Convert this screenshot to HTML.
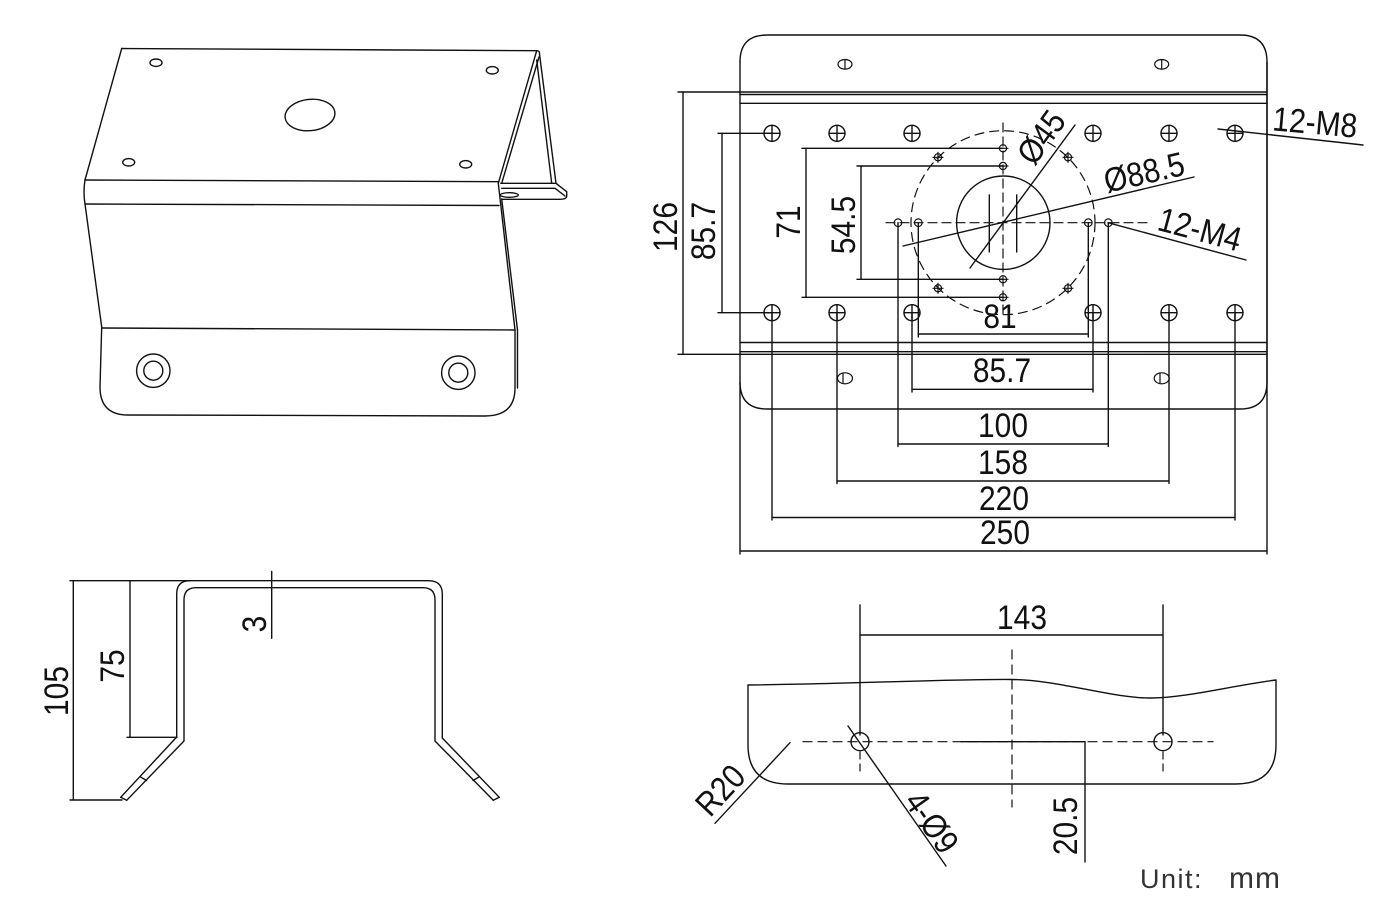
<!DOCTYPE html>
<html><head><meta charset="utf-8"><style>
html,body{margin:0;padding:0;background:#fff;}
svg{display:block;}
text{font-family:"Liberation Sans",sans-serif;font-size:34px;fill:#111;}
</style></head><body>
<svg width="1400" height="903" viewBox="0 0 1400 903" xmlns="http://www.w3.org/2000/svg">
<g fill="none" stroke="#111" stroke-width="1.4" stroke-linejoin="round" stroke-linecap="round">
<!-- ===== Isometric view ===== -->
<path d="M121.7,48.5 L536.7,50.7"/>
<path d="M121.7,48.5 L85,180"/>
<path d="M85,180 L499,181.7"/>
<path d="M85,180 Q83,192 85,204"/>
<path d="M85,204 L499,205.5"/>
<path d="M85,204 L101.7,327"/>
<path d="M101.7,328 L515,330"/>
<path d="M101.7,327 L100,387 Q100,415 128,415 L485,416 Q515,416 515,388 L515,330"/>
<path d="M498.3,183.3 L515,330"/>
<path d="M501.7,199 L517.5,330 L517.5,388"/>
<ellipse cx="156" cy="62.7" rx="6" ry="3.7"/>
<ellipse cx="492.3" cy="70.3" rx="6" ry="3.7"/>
<ellipse cx="128.7" cy="162.3" rx="6" ry="3.7"/>
<ellipse cx="465.7" cy="164.3" rx="6" ry="3.7"/>
<ellipse cx="310" cy="115" rx="25" ry="15.7" transform="rotate(-6 310 115)"/>
<circle cx="153.3" cy="370.7" r="16.7"/>
<circle cx="153.3" cy="370.7" r="9.5"/>
<circle cx="458.3" cy="372.7" r="16.7"/>
<circle cx="458.3" cy="372.7" r="9.5"/>
<!-- flange -->
<path d="M536.7,50.7 L498.3,183.3"/>
<path d="M539,57 L501.7,183.3"/>
<path d="M536.7,50.7 Q540,51 539.5,54 L556,183.3"/>
<path d="M536.7,60 L551.7,183.3"/>
<path d="M500.7,183.3 L556,183.3 L566.7,191.7 L566.7,196.7 Q566,199.3 560,199.3 L501.7,199.3"/>
<path d="M501.7,188.3 L555,188.3 L565,196"/>
<ellipse cx="509.3" cy="195" rx="9" ry="2.3"/>

<!-- ===== Plan view ===== -->
<path d="M740,62 Q740,35 767,35 L1240,35 Q1267,35 1267,62 L1267,382 Q1267,409 1240,409 L767,409 Q740,409 740,382"/>
<line x1="740" y1="62" x2="740" y2="554"/>
<line x1="1267" y1="62" x2="1267" y2="554"/>
<line x1="678" y1="92" x2="1267" y2="92"/>
<line x1="740" y1="94.5" x2="1267" y2="94.5"/>
<line x1="740" y1="103.3" x2="1267" y2="103.3"/>
<line x1="740" y1="342.5" x2="1267" y2="342.5"/>
<line x1="740" y1="351.7" x2="1267" y2="351.7"/>
<line x1="678" y1="354.3" x2="1267" y2="354.3"/>
<!-- slot holes -->
<g stroke-width="1.2">
<ellipse cx="845" cy="64.3" rx="7" ry="4.8"/><line x1="845" y1="59.5" x2="845" y2="69"/>
<ellipse cx="1161.7" cy="64.3" rx="7" ry="4.8"/><line x1="1161.7" y1="59.5" x2="1161.7" y2="69"/>
<ellipse cx="845" cy="378.3" rx="7.5" ry="5.5"/><line x1="843" y1="373" x2="843" y2="383.5"/>
<ellipse cx="1161.7" cy="378.3" rx="7.5" ry="5.5"/><line x1="1160" y1="373" x2="1160" y2="383.5"/>
</g>
<!-- left dims -->
<line x1="683" y1="92" x2="683" y2="354.3"/>
<line x1="718" y1="133.3" x2="772" y2="133.3"/>
<line x1="718" y1="312.7" x2="772" y2="312.7"/>
<line x1="722" y1="133.3" x2="722" y2="312.7"/>
<line x1="802" y1="148.3" x2="1003" y2="148.3"/>
<line x1="802" y1="297.3" x2="1003" y2="297.3"/>
<line x1="806" y1="148.3" x2="806" y2="297.3"/>
<line x1="857" y1="166" x2="1003" y2="166"/>
<line x1="857" y1="279.3" x2="1003" y2="279.3"/>
<line x1="861" y1="166" x2="861" y2="279.3"/>
<!-- M8 holes -->
<g>
<circle cx="772" cy="133.3" r="8"/><circle cx="837" cy="133.3" r="8"/><circle cx="912" cy="133.3" r="8"/>
<circle cx="1093" cy="133.3" r="8"/><circle cx="1169" cy="133.3" r="8"/><circle cx="1235" cy="133.3" r="8"/>
<circle cx="772" cy="312.7" r="8"/><circle cx="837" cy="312.7" r="8"/><circle cx="912" cy="312.7" r="8"/>
<circle cx="1093" cy="312.7" r="8"/><circle cx="1169" cy="312.7" r="8"/><circle cx="1235" cy="312.7" r="8"/>
<path d="M764,133.3h16M772,125.3v16M829,133.3h16M837,125.3v16M904,133.3h16M912,125.3v16M1085,133.3h16M1093,125.3v16M1161,133.3h16M1169,125.3v16M1227,133.3h16M1235,125.3v16"/>
<path d="M764,312.7h16M772,304.7v16M829,312.7h16M837,304.7v16M904,312.7h16M912,304.7v16M1085,312.7h16M1093,304.7v16M1161,312.7h16M1169,304.7v16M1227,312.7h16M1235,304.7v16"/>
</g>
<!-- small holes -->
<g stroke-width="1.2">
<circle cx="1003" cy="148.3" r="3.6"/><circle cx="1003" cy="166" r="3.6"/><circle cx="1003" cy="279.3" r="3.6"/><circle cx="1003" cy="297.3" r="3.6"/>
<circle cx="898" cy="222.7" r="3.8"/><circle cx="918.3" cy="222.7" r="3.8"/><circle cx="1088.3" cy="222.7" r="3.8"/><circle cx="1108.3" cy="222.7" r="3.8"/>
<circle cx="938" cy="157.3" r="3.6"/><circle cx="938" cy="288.3" r="3.6"/><circle cx="1068" cy="157.3" r="3.6"/><circle cx="1068" cy="288.3" r="3.6"/>
<path d="M933,157.3h10M938,152.3v10M933,288.3h10M938,283.3v10M1063,157.3h10M1068,152.3v10M1063,288.3h10M1068,283.3v10"/>
<path d="M998,148.3h10M998,166h10M998,279.3h10M998,297.3h10"/>
</g>
<!-- dashed circle & centre lines -->
<circle cx="1003" cy="222.7" r="92" stroke-dasharray="9,6" stroke-width="1.2"/>
<line x1="1003" y1="123" x2="1003" y2="318" stroke-dasharray="9,5" stroke-width="1.2"/>
<line x1="886" y1="222.7" x2="1147" y2="222.7" stroke-dasharray="9,5" stroke-width="1.2"/>
<circle cx="1003.3" cy="222.7" r="46.7"/>
<line x1="989.3" y1="195" x2="989.3" y2="252"/>
<line x1="1016.7" y1="195" x2="1016.7" y2="252"/>
<!-- leaders -->
<line x1="970" y1="268" x2="1075" y2="125"/>
<line x1="903" y1="246" x2="1194" y2="177"/>
<line x1="1108" y1="222.7" x2="1246" y2="260"/>
<line x1="1218" y1="129" x2="1363" y2="145"/>
<!-- bottom extension lines -->
<line x1="772" y1="312.7" x2="772" y2="520"/>
<line x1="1235" y1="312.7" x2="1235" y2="520"/>
<line x1="837" y1="312.7" x2="837" y2="483.5"/>
<line x1="1169" y1="312.7" x2="1169" y2="483.5"/>
<line x1="912" y1="312.7" x2="912" y2="392"/>
<line x1="1093" y1="312.7" x2="1093" y2="392"/>
<line x1="898" y1="222.7" x2="898" y2="446.5"/>
<line x1="1108.3" y1="222.7" x2="1108.3" y2="446.5"/>
<line x1="918.3" y1="222.7" x2="918.3" y2="337"/>
<line x1="1088.3" y1="222.7" x2="1088.3" y2="337"/>
<!-- bottom dimension lines -->
<line x1="918.3" y1="334" x2="1088.3" y2="334"/>
<line x1="912" y1="389.3" x2="1093" y2="389.3"/>
<line x1="898" y1="444" x2="1108.3" y2="444"/>
<line x1="837" y1="481" x2="1169" y2="481"/>
<line x1="772" y1="517.5" x2="1235" y2="517.5"/>
<line x1="740" y1="551" x2="1267" y2="551"/>

<!-- ===== Side profile ===== -->
<path d="M120.7,797.3 L176.7,737 L176.7,594 Q176.7,580.7 190,580.7 L428.3,580.7 Q442.3,580.7 442.3,594 L442.3,738 L499.3,797.3"/>
<path d="M126.7,800.3 L184,741 L184,600 Q184,587.7 196,587.7 L423,587.7 Q435,587.7 435,600 L435,741 L493.3,800.3"/>
<path d="M120.7,797.3 L126.7,800.3 M499.3,797.3 L493.3,800.3"/>
<path d="M140,776.7 L146.5,780.5 M479.5,776.7 L473,780.5"/>
<line x1="70" y1="580.7" x2="190" y2="580.7"/>
<line x1="73.3" y1="580.7" x2="73.3" y2="800"/>
<line x1="70" y1="800" x2="122" y2="800"/>
<line x1="130" y1="580.7" x2="130" y2="737.3"/>
<line x1="127" y1="737.3" x2="177" y2="737.3"/>
<line x1="271.7" y1="571.5" x2="271.7" y2="638.3"/>

<!-- ===== Bottom-right view ===== -->
<path d="M748,685 C850,684 950,679 1012,679.5 C1060,680 1110,698 1150,698 C1185,698 1230,686 1276,680 L1276,745 Q1276,784 1236,784 L788,784 Q748,784 748,745 Z"/>
<circle cx="860" cy="741.7" r="9"/>
<circle cx="1163" cy="741.7" r="9"/>
<line x1="803" y1="741.7" x2="1213" y2="741.7" stroke-dasharray="9,6" stroke-width="1.2"/>
<line x1="1012" y1="650" x2="1012" y2="807" stroke-dasharray="9,6" stroke-width="1.2"/>
<line x1="860" y1="605" x2="860" y2="735"/>
<line x1="1163" y1="605" x2="1163" y2="735"/>
<line x1="860" y1="752" x2="860" y2="776" stroke-dasharray="7,5" stroke-width="1.2"/>
<line x1="1163" y1="752" x2="1163" y2="776" stroke-dasharray="7,5" stroke-width="1.2"/>
<line x1="860" y1="635" x2="1163" y2="635"/>
<line x1="961" y1="741.7" x2="1085" y2="741.7"/>
<line x1="1085" y1="741.7" x2="1085" y2="862"/>
<line x1="790" y1="742.7" x2="715" y2="823.3"/>
<line x1="848" y1="726" x2="946" y2="866"/>
</g>

<!-- ===== Text ===== -->
<g>
<text transform="translate(665,227) rotate(-90) scale(0.88,1)" text-anchor="middle" y="12">126</text>
<text transform="translate(703,231) rotate(-90) scale(0.88,1)" text-anchor="middle" y="12">85.7</text>
<text transform="translate(788,222) rotate(-90) scale(0.88,1)" text-anchor="middle" y="12">71</text>
<text transform="translate(843,225) rotate(-90) scale(0.88,1)" text-anchor="middle" y="12">54.5</text>
<text transform="translate(1041,137) rotate(-54) scale(0.88,1)" text-anchor="middle" y="12">Ø45</text>
<text transform="translate(1144,172) rotate(-13) scale(0.88,1)" text-anchor="middle" y="12">Ø88.5</text>
<text transform="translate(1200,229) rotate(15) scale(0.88,1)" text-anchor="middle" y="12">12-M4</text>
<text transform="translate(1315,122) rotate(5) scale(0.88,1)" text-anchor="middle" y="12">12-M8</text>
<text transform="translate(1000,316) scale(0.88,1)" text-anchor="middle" y="12">81</text>
<text transform="translate(1002,370) scale(0.88,1)" text-anchor="middle" y="12">85.7</text>
<text transform="translate(1003,425) scale(0.88,1)" text-anchor="middle" y="12">100</text>
<text transform="translate(1003,462) scale(0.88,1)" text-anchor="middle" y="12">158</text>
<text transform="translate(1004,498) scale(0.88,1)" text-anchor="middle" y="12">220</text>
<text transform="translate(1005,532) scale(0.88,1)" text-anchor="middle" y="12">250</text>
<text transform="translate(56,691) rotate(-90) scale(0.88,1)" text-anchor="middle" y="12">105</text>
<text transform="translate(112,666) rotate(-90) scale(0.88,1)" text-anchor="middle" y="12">75</text>
<text transform="translate(254,624) rotate(-90) scale(0.88,1)" text-anchor="middle" y="12">3</text>
<text transform="translate(1022,617) scale(0.88,1)" text-anchor="middle" y="12">143</text>
<text transform="translate(1065,826) rotate(-90) scale(0.88,1)" text-anchor="middle" y="12">20.5</text>
<text transform="translate(720,790) rotate(-47) scale(0.88,1)" text-anchor="middle" y="12">R20</text>
<text transform="translate(932,822) rotate(55) scale(0.88,1)" text-anchor="middle" y="12">4-Ø9</text>
<text x="1140" y="888" style="font-size:27px;letter-spacing:1.5px;fill:#333">Unit:</text>
<text x="1229" y="888" style="font-size:30px;letter-spacing:1px;fill:#333">mm</text>
</g>
</svg>
</body></html>
